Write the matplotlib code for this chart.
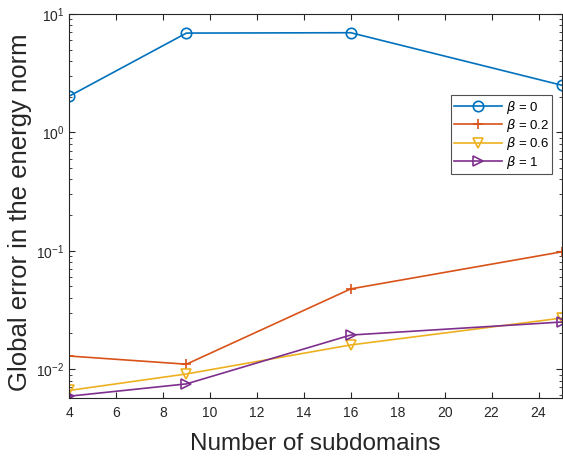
import numpy as np
import matplotlib.pyplot as plt

plt.rcParams['font.family'] = ['Liberation Sans', 'DejaVu Sans']
plt.rcParams['mathtext.fontset'] = 'dejavusans'

subdomains = [4, 9, 16, 25]
err_b0 = [2.02, 6.9, 6.95, 2.5]
err_b02 = [0.0129, 0.0110, 0.0476, 0.098]
err_b06 = [0.0066, 0.0091, 0.0160, 0.027]
err_b1 = [0.0059, 0.0075, 0.0194, 0.025]
labels = [r'$\beta$ = 0', r'$\beta$ = 0.2', r'$\beta$ = 0.6', r'$\beta$ = 1']

colors = ['#0072BD', '#D95319', '#EDB120', '#7E2F8E']
markers = ['o', '+', 'v', '>']

fig = plt.figure(figsize=(5.63, 4.58), dpi=100)
ax = fig.add_axes([0.1226, 0.131, 0.8756, 0.8384])

for ys, c, m, lab in zip([err_b0, err_b02, err_b06, err_b1], colors, markers, labels):
    ax.plot(subdomains, ys, color=c, marker=m, markersize=7.5, mfc='none',
            mew=1.2, lw=1.2, label=lab)

ax.set_yscale('log')
ax.set_xlim(4, 25)
ax.set_ylim(0.0057, 10)
ax.set_xticks(np.arange(4, 25, 2))
ax.tick_params(which='both', direction='in', top=True, right=True,
               labelsize=10, colors='#262626')
ax.tick_params(which='major', length=4)
ax.tick_params(which='minor', length=2)
ax.tick_params(axis='x', pad=6)
for s in ax.spines.values():
    s.set_color('#262626')
    s.set_linewidth(0.8)

ax.set_xlabel('Number of subdomains', fontsize=17.5, color='#262626', labelpad=9)
ax.set_ylabel('Global error in the energy norm', fontsize=18.5, color='#262626')
ax.yaxis.set_label_coords(-0.076, 0.485)

leg = ax.legend(loc='upper right', bbox_to_anchor=(0.986, 0.795), fontsize=9.5,
                fancybox=False, edgecolor='#262626', handlelength=3.6,
                borderpad=0.25, labelspacing=0.1, handletextpad=0.3,
                borderaxespad=0.2)
leg.get_frame().set_linewidth(0.8)

fig.savefig('out.png', dpi=100)
